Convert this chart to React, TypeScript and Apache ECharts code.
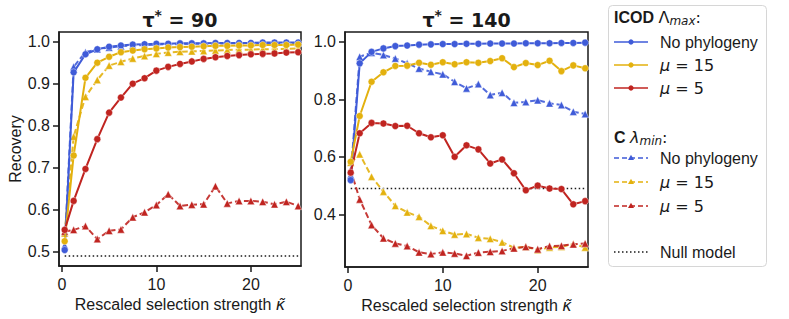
import React, { useEffect, useRef } from "react";
import * as echarts from "echarts";

// Rescaled selection strength values (x)
const KAPPA = [0.3, 1.25, 2.5, 3.75, 5, 6.25, 7.5, 8.75, 10, 11.25, 12.5, 13.75, 15, 16.25, 17.5, 18.75, 20, 21.25, 22.5, 23.75, 25];

// tau* = 90 panel
const L_ICOD_NOPHY = [0.504, 0.927, 0.97, 0.982, 0.988, 0.991, 0.993, 0.994, 0.995, 0.995, 0.996, 0.996, 0.996, 0.997, 0.997, 0.997, 0.997, 0.998, 0.998, 0.998, 0.998];
const L_ICOD_MU15 = [0.525, 0.729, 0.914, 0.95, 0.964, 0.975, 0.979, 0.982, 0.984, 0.986, 0.987, 0.988, 0.989, 0.99, 0.99, 0.991, 0.991, 0.992, 0.992, 0.992, 0.993];
const L_ICOD_MU5 = [0.552, 0.621, 0.697, 0.768, 0.831, 0.867, 0.9, 0.913, 0.931, 0.94, 0.947, 0.953, 0.959, 0.963, 0.966, 0.968, 0.97, 0.971, 0.972, 0.974, 0.975];
const L_C_NOPHY = [0.515, 0.94, 0.975, 0.982, 0.986, 0.989, 0.991, 0.992, 0.993, 0.994, 0.994, 0.995, 0.995, 0.995, 0.996, 0.996, 0.996, 0.996, 0.996, 0.997, 0.997];
const L_C_MU15 = [0.544, 0.774, 0.869, 0.909, 0.943, 0.952, 0.96, 0.966, 0.971, 0.974, 0.976, 0.977, 0.978, 0.979, 0.98, 0.981, 0.981, 0.982, 0.982, 0.983, 0.984];
const L_C_MU5 = [0.548, 0.552, 0.561, 0.53, 0.55, 0.553, 0.582, 0.594, 0.611, 0.637, 0.609, 0.612, 0.613, 0.656, 0.615, 0.621, 0.621, 0.619, 0.613, 0.619, 0.609];

// tau* = 140 panel
const R_ICOD_NOPHY = [0.519, 0.925, 0.965, 0.977, 0.985, 0.987, 0.99, 0.991, 0.992, 0.992, 0.993, 0.993, 0.994, 0.994, 0.994, 0.995, 0.995, 0.995, 0.996, 0.996, 0.997];
const R_ICOD_MU15 = [0.583, 0.742, 0.861, 0.894, 0.916, 0.917, 0.927, 0.92, 0.929, 0.922, 0.929, 0.927, 0.933, 0.943, 0.912, 0.926, 0.919, 0.934, 0.898, 0.918, 0.908];
const R_ICOD_MU5 = [0.545, 0.682, 0.718, 0.716, 0.707, 0.708, 0.682, 0.668, 0.675, 0.6, 0.64, 0.626, 0.577, 0.591, 0.543, 0.484, 0.5, 0.49, 0.488, 0.435, 0.446];
const R_C_NOPHY = [0.537, 0.948, 0.962, 0.954, 0.942, 0.925, 0.907, 0.896, 0.887, 0.861, 0.838, 0.853, 0.815, 0.823, 0.788, 0.791, 0.797, 0.786, 0.78, 0.757, 0.749];
const R_C_MU15 = [0.58, 0.609, 0.531, 0.479, 0.43, 0.407, 0.392, 0.36, 0.343, 0.33, 0.332, 0.319, 0.315, 0.303, 0.284, 0.287, 0.276, 0.285, 0.287, 0.297, 0.285];
const R_C_MU5 = [0.554, 0.452, 0.363, 0.317, 0.299, 0.29, 0.268, 0.262, 0.268, 0.264, 0.256, 0.267, 0.27, 0.273, 0.282, 0.287, 0.279, 0.29, 0.291, 0.296, 0.299];

const NULL_LEVEL = 0.49;
const NULL_X = [0.3, 25];

const X_TICKS = [0, 10, 20];
const L_Y_TICKS = [0.5, 0.6, 0.7, 0.8, 0.9, 1.0];
const R_Y_TICKS = [0.4, 0.6, 0.8, 1.0];
const TITLES = ["90", "140"];

const BLUE = "#3f5bd8";
const YELLOW = "#e3b10e";
const RED = "#c02420";
const INK = "#1a1a1a";
const SANS = "Liberation Sans, Arial, sans-serif";
const MATH = "DejaVu Sans, sans-serif";

function lineSeries(data: number[], color: string, dashed: boolean, idx: number) {
  return {
    type: "line",
    xAxisIndex: idx,
    yAxisIndex: idx,
    data: KAPPA.map((k, i) => [k, data[i]]),
    symbol: dashed ? "triangle" : "circle",
    symbolSize: dashed ? 7.5 : 7,
    lineStyle: { color, width: 2, type: dashed ? [6, 3] : "solid", opacity: dashed ? 0.9 : 1 },
    itemStyle: { color, borderColor: "rgba(255,255,255,0.55)", borderWidth: 0.8 },
    silent: true,
    z: dashed ? 3 : 4,
  };
}

function nullSeries(idx: number) {
  return {
    type: "line",
    xAxisIndex: idx,
    yAxisIndex: idx,
    data: NULL_X.map((x) => [x, NULL_LEVEL]),
    symbol: "none",
    lineStyle: { color: INK, width: 1.5, type: [1.5, 2.5] },
    silent: true,
    z: 2,
  };
}

function xAxis(idx: number) {
  return {
    type: "value",
    gridIndex: idx,
    min: -0.3,
    max: 25.3,
    splitLine: { show: false },
    axisLine: { show: true, onZero: false, lineStyle: { color: INK, width: 1.5 } },
    axisTick: { show: true, length: 6, lineStyle: { color: INK, width: 1.5 }, customValues: X_TICKS },
    axisLabel: { customValues: X_TICKS, margin: 10, fontSize: 16, fontFamily: SANS, color: INK },
    name: "{n|Rescaled selection strength }{k|κ̃}",
    nameLocation: "middle",
    nameGap: 30,
    nameTextStyle: {
      rich: {
        n: { fontSize: 16, fontFamily: SANS, color: INK },
        k: { fontSize: 16, fontFamily: MATH, fontStyle: "italic", color: INK },
      },
    },
  };
}

function yAxis(idx: number, min: number, max: number, ticks: number[]) {
  return {
    type: "value",
    gridIndex: idx,
    min,
    max,
    splitLine: { show: false },
    axisLine: { show: true, onZero: false, lineStyle: { color: INK, width: 1.5 } },
    axisTick: { show: true, length: 6, lineStyle: { color: INK, width: 1.5 }, customValues: ticks },
    axisLabel: {
      customValues: ticks,
      margin: 9,
      fontSize: 16,
      fontFamily: SANS,
      color: INK,
      formatter: (v: number) => v.toFixed(1),
    },
    name: idx === 0 ? "Recovery" : "",
    nameLocation: "middle",
    nameGap: 35,
    nameRotate: 90,
    nameTextStyle: { fontSize: 16, fontFamily: SANS, color: INK },
  };
}

function titleGraphic(cx: number, value: string) {
  return {
    type: "text",
    x: cx,
    y: 20,
    style: {
      text: "{t|τ}{s|*}{t| = " + value + "}",
      align: "center",
      verticalAlign: "middle",
      rich: {
        t: { fontSize: 19, fontFamily: MATH, fontWeight: "bold", fill: INK, lineHeight: 24, verticalAlign: "middle" },
        s: { fontSize: 14, fontFamily: MATH, fontWeight: "bold", fill: INK, lineHeight: 24, verticalAlign: "top" },
      },
    },
  };
}

const LEG_X0 = 614;
const LEG_X1 = 648;
const LEG_TX = 660;

function legendRow(y: number, color: string, kind: "solid" | "dashed" | "dotted", label: string, math: boolean) {
  const els: any[] = [];
  els.push({
    type: "line",
    shape: { x1: LEG_X0, y1: y, x2: LEG_X1, y2: y },
    style: {
      stroke: color,
      lineWidth: kind === "dotted" ? 1.5 : 1.6,
      lineDash: kind === "dashed" ? [5, 3] : kind === "dotted" ? [1.5, 2.5] : null,
    },
  });
  const mx = (LEG_X0 + LEG_X1) / 2;
  if (kind === "solid") {
    els.push({ type: "circle", shape: { cx: mx, cy: y, r: 2.6 }, style: { fill: color } });
  } else if (kind === "dashed") {
    els.push({ type: "polygon", shape: { points: [[mx, y - 3.2], [mx - 3, y + 2], [mx + 3, y + 2]] }, style: { fill: color } });
  }
  els.push({
    type: "text",
    x: LEG_TX,
    y,
    style: math
      ? {
          text: "{i|μ}{n| = " + label + "}",
          verticalAlign: "middle",
          rich: {
            i: { fontSize: 16, fontFamily: MATH, fontStyle: "italic", fill: INK },
            n: { fontSize: 16, fontFamily: MATH, fill: INK },
          },
        }
      : { text: label, fontSize: 16, fontFamily: SANS, fill: INK, verticalAlign: "middle" },
  });
  return els;
}

function legendGraphic() {
  const els: any[] = [
    {
      type: "rect",
      shape: { x: 608.5, y: 5.5, width: 158, height: 261, r: 4 },
      style: { fill: "#fff", stroke: "#d6d6d6", lineWidth: 1 },
    },
    {
      type: "text",
      x: LEG_X0,
      y: 17,
      style: {
        text: "{b|ICOD }{g|Λ}{s|max}{n|:}",
        verticalAlign: "middle",
        rich: {
          b: { fontSize: 16, fontFamily: SANS, fontWeight: "bold", fill: INK, lineHeight: 20, verticalAlign: "middle" },
          g: { fontSize: 16, fontFamily: MATH, fill: INK, lineHeight: 20, verticalAlign: "middle" },
          s: { fontSize: 12, fontFamily: MATH, fontStyle: "italic", fill: INK, lineHeight: 20, verticalAlign: "bottom", padding: [6, 0, 0, 0] },
          n: { fontSize: 16, fontFamily: MATH, fill: INK, lineHeight: 20, verticalAlign: "middle" },
        },
      },
    },
    {
      type: "text",
      x: LEG_X0,
      y: 137,
      style: {
        text: "{b|C }{g|λ}{s|min}{n|:}",
        verticalAlign: "middle",
        rich: {
          b: { fontSize: 16, fontFamily: SANS, fontWeight: "bold", fill: INK, lineHeight: 20, verticalAlign: "middle" },
          g: { fontSize: 16, fontFamily: MATH, fontStyle: "italic", fill: INK, lineHeight: 20, verticalAlign: "middle" },
          s: { fontSize: 12, fontFamily: MATH, fontStyle: "italic", fill: INK, lineHeight: 20, verticalAlign: "bottom", padding: [6, 0, 0, 0] },
          n: { fontSize: 16, fontFamily: MATH, fill: INK, lineHeight: 20, verticalAlign: "middle" },
        },
      },
    },
    ...legendRow(42, BLUE, "solid", "No phylogeny", false),
    ...legendRow(65, YELLOW, "solid", "15", true),
    ...legendRow(88, RED, "solid", "5", true),
    ...legendRow(158, BLUE, "dashed", "No phylogeny", false),
    ...legendRow(182, YELLOW, "dashed", "15", true),
    ...legendRow(206, RED, "dashed", "5", true),
    ...legendRow(252, INK, "dotted", "Null model", false),
  ];
  return els;
}

export default function App() {
  const ref = useRef<HTMLDivElement>(null);
  useEffect(() => {
    const chart = echarts.init(ref.current!, null, { renderer: "svg" });
    const option: any = {
      animation: false,
      backgroundColor: "#ffffff",
      grid: [
        { left: 59, top: 32, width: 242, height: 234, show: true, borderColor: INK, borderWidth: 1.5, backgroundColor: "transparent" },
        { left: 345, top: 32, width: 243, height: 235, show: true, borderColor: INK, borderWidth: 1.5, backgroundColor: "transparent" },
      ],
      xAxis: [xAxis(0), xAxis(1)],
      yAxis: [yAxis(0, 0.466, 1.023, L_Y_TICKS), yAxis(1, 0.217, 1.034, R_Y_TICKS)],
      series: [
        nullSeries(0),
        lineSeries(L_C_NOPHY, BLUE, true, 0),
        lineSeries(L_C_MU15, YELLOW, true, 0),
        lineSeries(L_C_MU5, RED, true, 0),
        lineSeries(L_ICOD_NOPHY, BLUE, false, 0),
        lineSeries(L_ICOD_MU15, YELLOW, false, 0),
        lineSeries(L_ICOD_MU5, RED, false, 0),
        nullSeries(1),
        lineSeries(R_C_NOPHY, BLUE, true, 1),
        lineSeries(R_C_MU15, YELLOW, true, 1),
        lineSeries(R_C_MU5, RED, true, 1),
        lineSeries(R_ICOD_NOPHY, BLUE, false, 1),
        lineSeries(R_ICOD_MU15, YELLOW, false, 1),
        lineSeries(R_ICOD_MU5, RED, false, 1),
      ],
      graphic: [titleGraphic(180, TITLES[0]), titleGraphic(466.5, TITLES[1]), ...legendGraphic()],
    };
    chart.setOption(option);
    return () => chart.dispose();
  }, []);
  return <div ref={ref} style={{ position: "absolute", left: 0, top: 0, width: 789, height: 319 }} />;
}
